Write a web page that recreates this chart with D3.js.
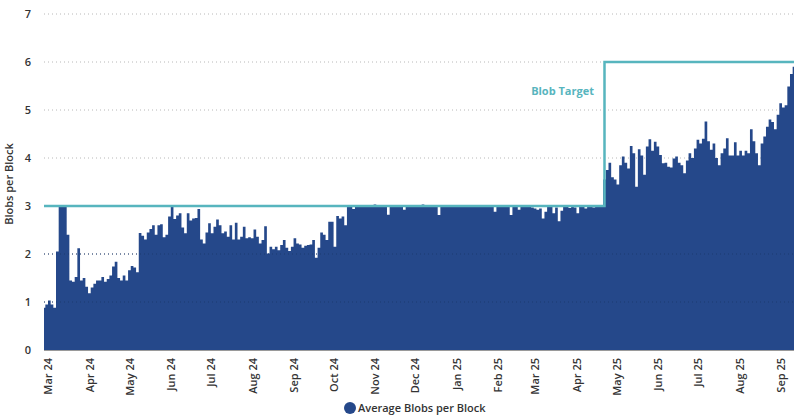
<!DOCTYPE html>
<html><head><meta charset="utf-8">
<script src="https://cdn.jsdelivr.net/npm/d3@7"></script>
<style>
html,body{margin:0;padding:0;background:#fff;}
svg text{font-family:"Open Sans",sans-serif;}
</style></head>
<body><svg id="c" width="800" height="420"></svg>
<script>
// ---- data ----
const startDate = "2024-03-13";
const endDate = "2025-09-26";
const stepDays = 2;
const blobValues = [
0.88,0.95,1.03,0.95,0.88,2.05,3.0,3.0,3.0,2.4,
1.45,1.42,1.52,2.12,1.45,1.5,1.32,1.18,1.3,1.38,
1.45,1.45,1.52,1.42,1.48,1.55,1.74,1.84,1.5,1.45,
1.55,1.45,1.66,1.75,1.72,1.62,2.44,2.38,2.3,2.45,
2.52,2.6,2.4,2.6,2.62,2.35,2.4,2.78,2.98,2.73,
2.8,2.85,2.55,2.43,2.85,2.7,2.74,2.75,2.94,2.3,
2.22,2.45,2.64,2.43,2.57,2.72,2.6,2.43,2.47,2.36,
2.6,2.3,2.65,2.3,2.36,2.57,2.33,2.35,2.33,2.51,
2.36,2.22,2.29,2.58,2.01,2.15,2.1,2.15,2.08,2.19,
2.29,2.13,2.06,2.15,2.33,2.22,2.2,2.13,2.17,2.19,
2.2,2.29,1.92,2.13,2.45,2.4,2.29,2.67,2.67,2.15,
2.79,2.74,2.78,2.6,2.98,3.01,2.94,3.02,3.0,3.01,
3.0,3.02,2.99,3.01,3.03,3.0,2.99,3.02,3.0,2.82,
3.01,3.0,3.02,2.99,3.01,2.92,3.0,3.02,3.01,3.0,
2.99,3.01,3.03,3.0,2.98,3.01,3.0,3.02,2.81,3.0,
3.01,2.99,3.02,3.0,3.01,3.0,3.02,2.99,3.01,3.0,
3.01,3.02,3.0,2.99,3.01,3.0,3.02,3.0,3.01,2.88,
3.0,3.01,3.02,3.0,2.99,2.81,3.01,3.0,2.92,3.02,
3.0,3.01,2.99,2.97,2.95,2.92,2.95,2.74,2.88,2.98,
3.0,2.85,2.97,2.68,2.9,2.98,3.0,2.96,3.01,2.97,
2.85,3.0,2.98,2.95,3.01,2.99,2.97,3.0,2.98,3.0,
3.55,3.75,3.9,3.6,3.55,3.45,3.85,4.03,3.9,3.78,
4.25,4.1,3.4,4.18,4.05,3.65,4.24,4.39,4.15,4.34,
4.24,4.06,3.89,3.9,3.82,3.8,3.99,4.03,3.9,3.85,
3.68,3.95,4.1,4.0,4.2,4.38,4.3,4.4,4.76,4.35,
4.17,4.3,4.0,3.85,4.1,4.2,4.41,4.05,4.05,4.33,
4.05,4.15,4.05,4.15,4.1,4.6,4.35,4.1,3.85,4.3,
4.45,4.65,4.8,4.75,4.6,4.9,5.14,5.05,5.1,5.49,
5.75,5.9
];
const targetDates = ["2024-03-13","2025-05-07","2025-09-26"];
const targetValues = [3, 6, 6];
const yTicks = [0,1,2,3,4,5,6,7];
const xTickDates = ["2024-03-16","2024-04-16","2024-05-16","2024-06-16","2024-07-16","2024-08-16","2024-09-16","2024-10-16","2024-11-16","2024-12-16","2025-01-16","2025-02-16","2025-03-16","2025-04-16","2025-05-16","2025-06-16","2025-07-16","2025-08-16","2025-09-16"];
const seriesName = "Average Blobs per Block";
const targetName = "Blob Target";
const yTitle = "Blobs per Block";

// ---- chart ----
const parse = d3.utcParse("%Y-%m-%d");
const t0 = parse(startDate);
const data = blobValues.map((v,i)=>({date:d3.utcDay.offset(t0, i*stepDays), v}));
const target = targetDates.map((d,i)=>({date:parse(d), v:targetValues[i]}));

const svg = d3.select("#c");
const L=44, R=794, T=14, B=350;
const x = d3.scaleUtc().domain([t0, parse(endDate)]).range([L,R]);
const y = d3.scaleLinear().domain([0,7]).range([B,T]);

const AREA="#25488a", TEAL="#57b5be", TXT="#333";

// grid
svg.append("g").selectAll("line").data(yTicks.filter(d=>d>0)).join("line")
  .attr("x1",L).attr("x2",R).attr("y1",d=>y(d)).attr("y2",d=>y(d))
  .attr("stroke","#b8b8b8").attr("stroke-width",1).attr("stroke-dasharray","1,3");

// area
svg.append("path").datum(data)
  .attr("fill",AREA)
  .attr("d", d3.area().curve(d3.curveStep).x(d=>x(d.date)).y0(y(0)).y1(d=>y(d.v)));

// faint grid over area
svg.append("g").selectAll("line").data([1,2]).join("line")
  .attr("x1",L).attr("x2",R).attr("y1",d=>y(d)).attr("y2",d=>y(d))
  .attr("stroke","#1d3a70").attr("stroke-width",1).attr("stroke-dasharray","1,3");

// baseline
svg.append("line").attr("x1",L).attr("x2",R).attr("y1",B+0.5).attr("y2",B+0.5)
  .attr("stroke","#9a9a9a").attr("stroke-width",1);

// target
svg.append("path").datum(target)
  .attr("fill","none").attr("stroke",TEAL).attr("stroke-width",2.5)
  .attr("d", d3.line().curve(d3.curveStepAfter).x(d=>x(d.date)).y(d=>y(d.v)));
svg.append("text").attr("x",594).attr("y",95).attr("text-anchor","end")
  .attr("fill",TEAL).attr("font-size",11).attr("font-weight",700).text(targetName);

// y axis
const ya = svg.append("g").attr("transform",`translate(${L},0)`)
  .call(d3.axisLeft(y).tickValues(yTicks).tickSize(0).tickPadding(13).tickFormat(d3.format("d")));
ya.select(".domain").remove();
ya.selectAll("text").attr("font-size",11).attr("font-weight",600).attr("fill",TXT)
  .style("font-family","'Open Sans',sans-serif");

svg.append("text").attr("transform",`translate(13,${(T+B)/2+2}) rotate(-90)`)
  .attr("text-anchor","middle").attr("font-size",11).attr("font-weight",600).attr("fill",TXT).text(yTitle);

// x axis
const xa = svg.append("g").attr("transform",`translate(0,${B})`)
  .call(d3.axisBottom(x).tickValues(xTickDates.map(parse)).tickSize(0).tickFormat(d3.utcFormat("%b %y")));
xa.select(".domain").remove();
xa.selectAll("text").attr("transform","rotate(-90)").attr("text-anchor","end")
  .attr("x",-8).attr("y",0).attr("dy","0.35em")
  .attr("font-size",11).attr("font-weight",600).attr("fill",TXT)
  .style("font-family","'Open Sans',sans-serif");

// legend
const lg = svg.append("g").attr("transform","translate(350,408)");
lg.append("circle").attr("r",6).attr("fill",AREA);
lg.append("text").attr("x",8).attr("y",4).attr("font-size",11).attr("font-weight",600).attr("fill",TXT).text(seriesName);
</script></body></html>
